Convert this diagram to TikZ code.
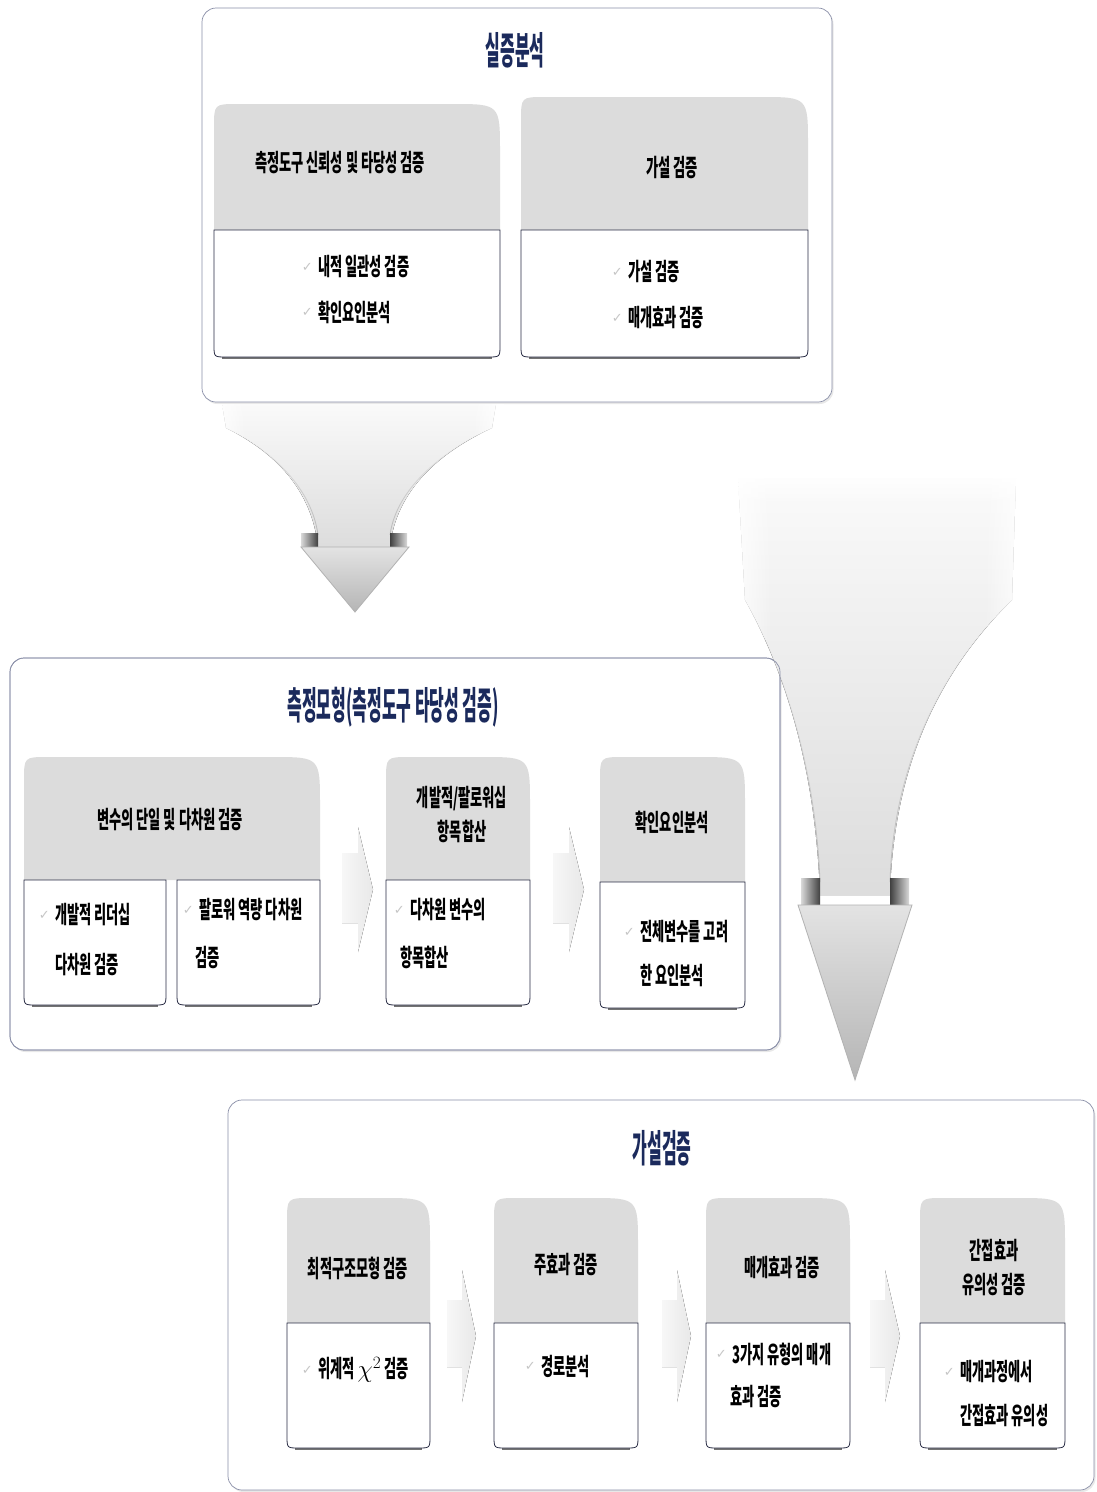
\documentclass[tikz,border=0pt]{standalone}
\usepackage{fontspec}
\newfontfamily\kr{Noto Sans CJK KR}[FakeStretch=0.55]
\newfontfamily\krt{Noto Sans CJK KR}[FakeStretch=0.42]
\newfontfamily\symfont{DejaVu Sans}
\usetikzlibrary{fadings,shadows}

\definecolor{navy}{HTML}{1B2A5C}
\definecolor{hdrgray}{HTML}{DCDCDC}
\definecolor{framecol}{HTML}{8A8FA8}
\definecolor{edgecol}{HTML}{2A2D45}

\tikzfading[name=edgefade, top color=transparent!100, middle color=transparent!0, bottom color=transparent!0]

\tikzset{
  panel/.style={draw=framecol, line width=0.7pt, rounded corners=14pt, fill=white,
    drop shadow={opacity=0.18, shadow xshift=1.5pt, shadow yshift=-2pt}},
  panelrim/.style={draw=framecol, line width=0.7pt, rounded corners=14pt},
  bodyline/.style={draw=edgecol, line width=0.8pt, fill=white},
  shadowline/.style={draw=black!55, line width=1.8pt},
  paneltitle/.style={font=\krt\bfseries\fontsize{38}{44}\selectfont, text=navy, inner sep=0pt},
  headtext/.style={font=\kr\bfseries\fontsize{24}{34}\selectfont, align=center, inner sep=0pt},
  bodytext/.style={font=\kr\bfseries\fontsize{24}{28}\selectfont, anchor=west, inner sep=0pt},
  chkmark/.style={font=\symfont\fontsize{13}{13}\selectfont, text=gray!45, anchor=east, inner sep=0pt},
  flowarrow/.style={left color=gray!6, right color=gray!18},
  funnel/.style={top color=gray!4, middle color=gray!15, bottom color=gray!27},
  funneledge/.style={draw=gray!55, line width=0.8pt, path fading=edgefade},
  arrowhead/.style={draw=gray!60, line width=0.8pt, top color=gray!22, bottom color=gray!58},
  softleft/.style={fill=white, path fading=east},
  softright/.style={fill=white, path fading=west},
  softtop/.style={fill=white, path fading=south},
}

% grey header of a stage: x1 x2 ytop ybottom
\newcommand{\stagehead}[4]{%
  \fill[hdrgray] (#1,#4) -- (#1,#3+24) .. controls (#1,#3) .. (#1+24,#3)
    -- (#2-48,#3) .. controls (#2,#3) .. (#2,#3+48) -- (#2,#4) -- cycle;}
% white body of a stage: x1 x2 ytop ybottom
\newcommand{\stagebody}[4]{%
  \draw[shadowline] (#1+8,#4+1.2) -- (#2-8,#4+1.2);
  \draw[bodyline] (#1,#3) -- (#1,#4-12) .. controls (#1,#4) .. (#1+12,#4)
    -- (#2-12,#4) .. controls (#2,#4) .. (#2,#4-12) -- (#2,#3) -- cycle;}
% flat right-pointing block arrow: x0 xmid xtip yshaft1 yshaft2 yhead1 yhead2
\newcommand{\stepflow}[7]{%
  \fill[flowarrow] (#1,#4) -- (#2,#4) -- (#2,#6) -- (#3,{(#6+#7)/2}) -- (#2,#7)
    -- (#2,#5) -- (#1,#5) -- cycle;}

\begin{document}
\begin{tikzpicture}[x=1pt,y=-1pt]
\useasboundingbox (0,0) rectangle (1096,1492);
\fill[white] (0,0) rectangle (1096,1492);

% ---------------- empirical analysis panel ----------------
\draw[panel] (202,8) rectangle (832,402);
\node[paneltitle] (t1) at (515,50) {실증분석};

\stagehead{214}{500}{104}{230}
\stagebody{214}{500}{230}{357}
\stagehead{521}{808}{97}{230}
\stagebody{521}{808}{230}{357}

\node[headtext] (h1) at (340,163) {측정도구 신뢰성 및 타당성 검증};
\node[headtext] (h2) at (672,168) {가설 검증};

\node[bodytext] (b1a) at (318,267) {내적 일관성 검증};
\node[chkmark] at ([xshift=-5pt]b1a.west) {✓};
\node[bodytext] (b1b) at (318,312) {확인요인분석};
\node[chkmark] at ([xshift=-5pt]b1b.west) {✓};
\node[bodytext] (b2a) at (628,272) {가설 검증};
\node[chkmark] at ([xshift=-5pt]b2a.west) {✓};
\node[bodytext] (b2b) at (628,318) {매개효과 검증};
\node[chkmark] at ([xshift=-5pt]b2b.west) {✓};

% ---------------- first funnel arrow ----------------
\fill[funnel] (222,404) -- (496,404) -- (492,428) .. controls (440,452) and (396,490) .. (390,547)
  -- (318,547) .. controls (312,490) and (275,452) .. (226,428) -- cycle;
\draw[funneledge] (226,428) .. controls (275,452) and (312,490) .. (318,535);
\draw[funneledge] (492,428) .. controls (440,452) and (396,490) .. (390,535);
\fill[softleft] (214,404) rectangle (246,450);
\fill[softright] (472,404) rectangle (504,450);
\shade[left color=gray!30, right color=black!75] (301,533) rectangle (318,547);
\shade[left color=black!75, right color=gray!30] (390,533) rectangle (407,547);
\draw[arrowhead] (301,547) -- (409,547) -- (355,612) -- cycle;

% ---------------- measurement model panel ----------------
\draw[panel] (10,658) rectangle (780,1050);
\node[paneltitle] (t2) at (393,707) {측정모형(측정도구 타당성 검증)};

\stagehead{24}{320}{757}{880}
\stagebody{24}{166}{880}{1005}
\stagebody{177}{320}{880}{1005}
\stepflow{342}{358}{373}{853}{923}{827}{952}
\stagehead{386}{530}{757}{880}
\stagebody{386}{530}{880}{1005}
\stepflow{553}{569}{584}{853}{923}{827}{952}
\stagehead{600}{745}{757}{882}
\stagebody{600}{745}{882}{1008}

\node[headtext] (h3) at (170,820) {변수의 단일 및 다차원 검증};
\node[headtext] (h4) at (462,815) {개발적/팔로워십\\항목합산};
\node[headtext] (h5) at (672,822) {확인요인분석};

\node[bodytext] (b3a) at (55,915) {개발적 리더십};
\node[chkmark] at ([xshift=-5pt]b3a.west) {✓};
\node[bodytext] (b3b) at (55,965) {다차원 검증};
\node[bodytext] (b4a) at (199,910) {팔로워 역량 다차원};
\node[chkmark] at ([xshift=-5pt]b4a.west) {✓};
\node[bodytext] (b4b) at (195,958) {검증};
\node[bodytext] (b5a) at (410,910) {다차원 변수의};
\node[chkmark] at ([xshift=-5pt]b5a.west) {✓};
\node[bodytext] (b5b) at (400,957) {항목합산};
\node[bodytext] (b6a) at (640,932) {전체변수를 고려};
\node[chkmark] at ([xshift=-5pt]b6a.west) {✓};
\node[bodytext] (b6b) at (640,975) {한 요인분석};

% ---------------- second funnel arrow ----------------
\fill[funnel] (738,478) -- (1016,478) -- (1012,600) .. controls (930,680) and (893,780) .. (890,895)
  -- (820,895) .. controls (816,780) and (790,680) .. (745,600) -- cycle;
\draw[funneledge] (745,600) .. controls (790,680) and (816,780) .. (820,882);
\draw[funneledge] (1012,600) .. controls (930,680) and (893,780) .. (890,882);
\fill[softleft] (728,470) rectangle (772,640);
\fill[softright] (984,470) rectangle (1028,640);
\fill[softtop] (728,470) rectangle (1028,505);
\shade[left color=gray!30, right color=black!75] (801,878) rectangle (820,905);
\shade[left color=black!75, right color=gray!30] (890,878) rectangle (909,905);
\draw[arrowhead] (798,905) -- (912,905) -- (855,1080) -- cycle;
% the panel rim stays visible through the funnel
\draw[panelrim] (10,658) rectangle (780,1050);

% ---------------- hypothesis test panel ----------------
\draw[panel] (228,1100) rectangle (1094,1490);
\node[paneltitle] (t3) at (662,1148) {가설검증};

\stagehead{287}{430}{1198}{1323}
\stagebody{287}{430}{1323}{1448}
\stepflow{447}{462}{476}{1300}{1367}{1270}{1402}
\stagehead{494}{638}{1198}{1323}
\stagebody{494}{638}{1323}{1448}
\stepflow{662}{677}{691}{1300}{1367}{1270}{1402}
\stagehead{706}{850}{1198}{1323}
\stagebody{706}{850}{1323}{1448}
\stepflow{870}{885}{900}{1300}{1367}{1270}{1402}
\stagehead{920}{1065}{1198}{1323}
\stagebody{920}{1065}{1323}{1448}

\node[headtext] (h6) at (358,1268) {최적구조모형 검증};
\node[headtext] (h7) at (566,1265) {주효과 검증};
\node[headtext] (h8) at (782,1268) {매개효과 검증};
\node[headtext] (h9) at (994,1268) {간접효과\\유의성 검증};

\node[bodytext] (b7a) at (318,1370) {위계적 $\chi^{2}$ 검증};
\node[chkmark] at ([xshift=-5pt]b7a.west) {✓};
\node[bodytext] (b8a) at (541,1366) {경로분석};
\node[chkmark] at ([xshift=-5pt]b8a.west) {✓};
\node[bodytext] (b9a) at (732,1354) {3가지 유형의 매개};
\node[chkmark] at ([xshift=-5pt]b9a.west) {✓};
\node[bodytext] (b9b) at (730,1397) {효과 검증};
\node[bodytext] (b10a) at (960,1372) {매개과정에서};
\node[chkmark] at ([xshift=-5pt]b10a.west) {✓};
\node[bodytext] (b10b) at (960,1416) {간접효과 유의성};
\end{tikzpicture}
\end{document}
